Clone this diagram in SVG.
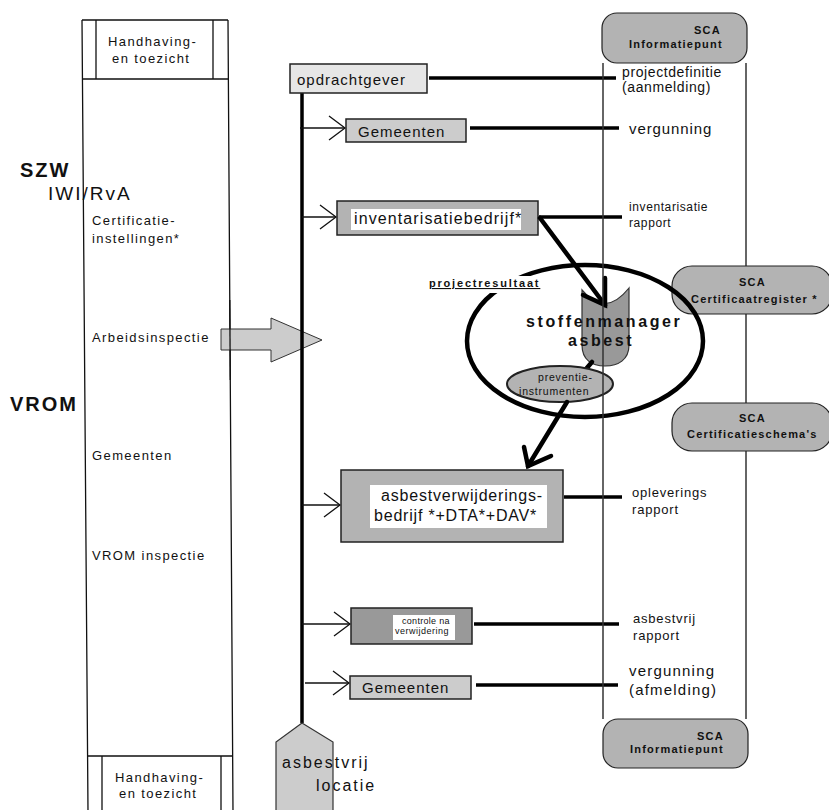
<svg xmlns="http://www.w3.org/2000/svg" width="829" height="810" viewBox="0 0 829 810">
<defs>
<style>
text{font-family:"Liberation Sans",Arial,sans-serif;fill:#111}
.col{stroke:#111;stroke-width:1.3;fill:none}
.lbl{font-size:13px;letter-spacing:1.4px}
.big{font-size:20px;font-weight:bold;letter-spacing:2px}
.sca{fill:#b3b3b3;stroke:#222;stroke-width:1.2}
.scat{font-size:11px;font-weight:bold;letter-spacing:1.2px}
.box{stroke:#222;stroke-width:1.5}
.thin{stroke:#111;stroke-width:1.3;fill:none}
.thick{stroke:#000;stroke-width:3.5;fill:none}
.heavy{stroke:#000;stroke-width:4.5;fill:none;stroke-linecap:round}
.out{font-size:13px;letter-spacing:0.8px}
</style>
<marker id="open" markerUnits="userSpaceOnUse" markerWidth="20" markerHeight="28" refX="17" refY="13" orient="auto">
<path d="M1,1 L17,13 L1,25" fill="none" stroke="#111" stroke-width="1.3"/>
</marker>
</defs>
<rect width="829" height="810" fill="#fff"/>

<g id="left-column">
<path class="col" d="M82,20 L88,812 M228,20 L233,812 M82,20 H228 M82,79 H228 M96,20 V79 M213,20 V79 M88,756 H233 M102,756 V812 M221,756 V812"/>
<text class="lbl" x="108" y="46">Handhaving-</text>
<text class="lbl" x="112" y="63">en toezicht</text>
<text class="big" x="20" y="177">SZW</text>
<text x="48" y="200" style="font-size:19px;letter-spacing:2px">IWI/RvA</text>
<text class="lbl" x="92" y="225">Certificatie-</text>
<text class="lbl" x="92" y="243">instellingen*</text>
<text class="lbl" x="92" y="342">Arbeidsinspectie</text>
<text class="big" x="10" y="411">VROM</text>
<text class="lbl" x="92" y="460">Gemeenten</text>
<text class="lbl" x="92" y="560">VROM inspectie</text>
<text class="lbl" x="115" y="782">Handhaving-</text>
<text class="lbl" x="119" y="798">en toezicht</text>
</g>

<g id="arbeidsinspectie-arrow">
<polygon points="221,329 271,329 271,318 322,340 271,362 271,350 221,350" fill="#cccccc" stroke="#333" stroke-width="1"/>
<path class="col" d="M229.77,300 L230.27,380"/>
</g>

<g id="right-column">
<line x1="746" y1="63" x2="746" y2="719" stroke="#333" stroke-width="1.5"/>
</g>

<g id="sca-informatiepunt-top">
<rect class="sca" x="602" y="13" width="145" height="50" rx="15"/>
<text class="scat" x="694" y="34">SCA</text>
<text class="scat" x="629" y="48">Informatiepunt</text>
</g>
<g id="sca-certificaatregister">
<rect class="sca" x="672" y="266" width="160" height="48" rx="20"/>
<text class="scat" x="739" y="286">SCA</text>
<text class="scat" x="691" y="303">Certificaatregister *</text>
</g>
<g id="sca-certificatieschemas">
<rect class="sca" x="672" y="403" width="160" height="48" rx="20"/>
<text class="scat" x="739" y="422">SCA</text>
<text class="scat" x="687" y="438">Certificatieschema's</text>
</g>
<g id="sca-informatiepunt-bottom">
<rect class="sca" x="603" y="719" width="145" height="49" rx="15"/>
<text class="scat" x="697" y="740">SCA</text>
<text class="scat" x="630" y="753">Informatiepunt</text>
</g>

<g id="connectors">
<line class="thick" x1="302" y1="93" x2="302" y2="723"/>
<line class="thick" x1="429" y1="78" x2="616" y2="78"/>
<line class="thin" x1="300" y1="128" x2="345" y2="128" marker-end="url(#open)"/>
<line class="thick" x1="470" y1="128" x2="619" y2="128"/>
<line class="thin" x1="302" y1="217" x2="336" y2="217" marker-end="url(#open)"/>
<line class="thick" x1="539" y1="217" x2="622" y2="217"/>
<line class="thin" x1="302" y1="505" x2="340" y2="505" marker-end="url(#open)"/>
<line class="thick" x1="564" y1="497" x2="622" y2="497"/>
<line class="thin" x1="302" y1="624" x2="350" y2="624" marker-end="url(#open)"/>
<line class="thick" x1="474" y1="624" x2="619" y2="624"/>
<line class="thin" x1="305" y1="683" x2="349" y2="683" marker-end="url(#open)"/>
<line class="thick" x1="476" y1="685" x2="618" y2="685"/>
</g>

<g id="opdrachtgever">
<rect class="box" x="290" y="64" width="137" height="29" fill="#e6e6e6"/>
<text x="297" y="85" style="font-size:15px;letter-spacing:1px">opdrachtgever</text>
</g>
<g id="gemeenten-1">
<rect class="box" x="346" y="119" width="120" height="23" fill="#cccccc"/>
<text x="358" y="137" style="font-size:15px;letter-spacing:1px">Gemeenten</text>
</g>
<g id="inventarisatiebedrijf">
<rect class="box" x="337" y="201" width="201" height="34" fill="#b3b3b3"/>
<rect x="351" y="209" width="170" height="21" fill="#fff"/>
<text x="354" y="224" style="font-size:16px;letter-spacing:1.1px">inventarisatiebedrijf*</text>
</g>
<g id="asbestverwijderingsbedrijf">
<rect class="box" x="341" y="470" width="222" height="72" fill="#b3b3b3"/>
<rect x="370" y="485" width="177" height="43" fill="#fff"/>
<text x="381" y="501" style="font-size:16px;letter-spacing:0.8px">asbestverwijderings-</text>
<text x="374" y="521" style="font-size:16px;letter-spacing:0.8px">bedrijf *+DTA*+DAV*</text>
</g>
<g id="controle-na-verwijdering">
<rect class="box" x="351" y="608" width="121" height="36" fill="#999999"/>
<rect x="393" y="615" width="62" height="25" fill="#fff"/>
<text x="402" y="624" style="font-size:9px;letter-spacing:0.3px">controle na</text>
<text x="395" y="634" style="font-size:9px;letter-spacing:0.5px">verwijdering</text>
</g>
<g id="gemeenten-2">
<rect class="box" x="350" y="676" width="121" height="23" fill="#cccccc"/>
<text x="362" y="693" style="font-size:15px;letter-spacing:1px">Gemeenten</text>
</g>
<g id="asbestvrij-locatie">
<path d="M302,723 L333,742 L333,815 L276,815 L276,742 Z" fill="#cccccc" stroke="#333" stroke-width="1.2"/>
<text x="282" y="768" style="font-size:16px;letter-spacing:2px">asbestvrij</text>
<text x="316" y="791" style="font-size:16px;letter-spacing:2px">locatie</text>
</g>

<g id="output-labels">
<text x="622" y="77" style="font-size:14px;letter-spacing:0.6px">projectdefinitie</text>
<text x="622" y="92" style="font-size:14px;letter-spacing:0.6px">(aanmelding)</text>
<text x="629" y="134" style="font-size:15px;letter-spacing:0.9px">vergunning</text>
<text x="629" y="211" style="font-size:12px;letter-spacing:0.6px">inventarisatie</text>
<text x="629" y="227" style="font-size:12px;letter-spacing:0.6px">rapport</text>
<text class="out" x="632" y="497">opleverings</text>
<text class="out" x="632" y="514">rapport</text>
<text class="out" x="633" y="623">asbestvrij</text>
<text class="out" x="633" y="640">rapport</text>
<text x="629" y="676" style="font-size:15px;letter-spacing:1.2px">vergunning</text>
<text x="629" y="695" style="font-size:15px;letter-spacing:1.2px">(afmelding)</text>
</g>

<g id="projectresultaat">
<ellipse cx="585" cy="341" rx="118" ry="76" fill="none" stroke="#000" stroke-width="4.5"/>
<rect x="428" y="276" width="116" height="17" fill="#fff"/>
<text x="429" y="287" style="font-size:11px;font-weight:bold;letter-spacing:1.8px;text-decoration:underline">projectresultaat</text>
</g>

<g id="stoffenmanager">
<path d="M582,290 Q605,318 629,288 L629,345 C629,360 618,366 605,366 C592,366 582,360 582,345 Z" fill="#999999" stroke="#333" stroke-width="1.2"/>
</g>
<g id="preventie-instrumenten">
<line class="heavy" x1="592" y1="362" x2="586" y2="369"/>
<ellipse cx="560" cy="384" rx="53" ry="18" fill="#b3b3b3" stroke="#222" stroke-width="2"/>
<text x="538" y="381" style="font-size:10.5px;letter-spacing:0.8px">preventie-</text>
<text x="519" y="395" style="font-size:10.5px;letter-spacing:0.8px">instrumenten</text>
</g>

<g id="flow-arrows">
<line class="heavy" x1="540" y1="218" x2="605" y2="305"/>
<polyline class="heavy" points="583,295 605,305 605,278"/>
<line class="heavy" x1="567" y1="402" x2="528" y2="466"/>
<polyline class="heavy" points="524,447 528,466 551,456"/>
</g>

<g id="right-column-left-line">
<line x1="603" y1="63" x2="603" y2="719" stroke="#333" stroke-width="1.5"/>
</g>

<g id="stoffenmanager-label">
<text x="526" y="327" style="font-size:16px;font-weight:bold;letter-spacing:2.6px">stoffenmanager</text>
<text x="568" y="346" style="font-size:16px;font-weight:bold;letter-spacing:2.6px">asbest</text>
</g>
</svg>
